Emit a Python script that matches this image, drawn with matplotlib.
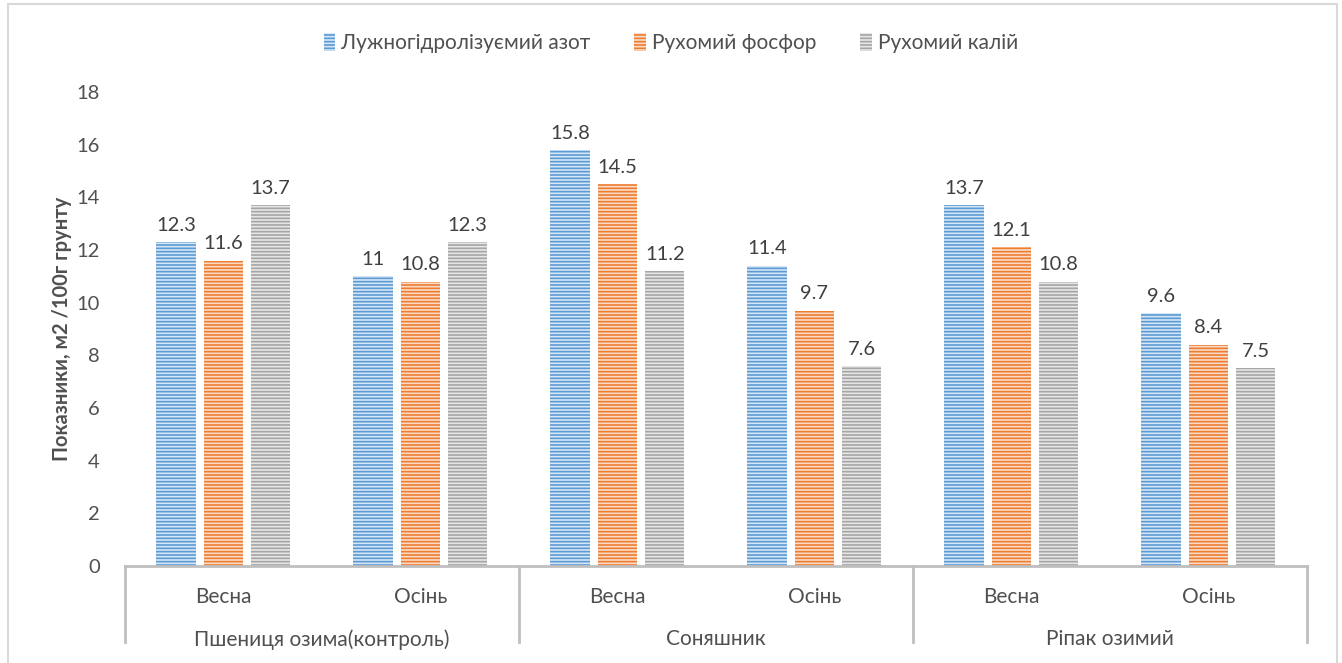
import numpy as np
import matplotlib.pyplot as plt
from matplotlib.patches import Rectangle
from matplotlib.lines import Line2D

plt.rcParams['font.family'] = ['Lato', 'DejaVu Sans']
plt.rcParams['hatch.linewidth'] = 1.2

seasons = ['Весна', 'Осінь', 'Весна', 'Осінь', 'Весна', 'Осінь']
crops = ['Пшениця озима(контроль)', 'Соняшник', 'Ріпак озимий']
series = ['Лужногідролізуємий азот', 'Рухомий фосфор', 'Рухомий калій']
nitrogen = [12.3, 11, 15.8, 11.4, 13.7, 9.6]
phosphorus = [11.6, 10.8, 14.5, 9.7, 12.1, 8.4]
potassium = [13.7, 12.3, 11.2, 7.6, 10.8, 7.5]

colors = ['#5B9BD5', '#ED7D31', '#A5A5A5']
light = ['#D6E6F5', '#FADBC8', '#E6E6E6']
txt = '#505050'

fig = plt.figure(figsize=(13.42, 6.63), dpi=100)
ax = fig.add_axes([0.0931, 0.1463, 0.8808, 0.715])

x = np.arange(len(seasons))
width = 0.2
offsets = [-0.24, 0, 0.24]
handles = []
for vals, off, c, lc, name in zip([nitrogen, phosphorus, potassium], offsets, colors, light, series):
    bars = ax.bar(x + off, vals, width, facecolor=lc, edgecolor=c, hatch='-----',
                  linewidth=0, label=name)
    handles.append(bars)
    for xi, v in zip(x + off, vals):
        ax.annotate(f'{v:g}', (xi, v), xytext=(0, 6), textcoords='offset points',
                    ha='center', va='bottom', fontsize=14.5, color='#404040')

ax.set_xlim(-0.5, 5.5)
ax.set_ylim(0, 18)
ax.set_yticks(range(0, 19, 2))
ax.tick_params(axis='y', length=0, labelsize=14.5, labelcolor=txt, pad=18)
ax.set_xticks([])
for s in ['top', 'right', 'left']:
    ax.spines[s].set_visible(False)
ax.spines['bottom'].set_color('#BFBFBF')
ax.spines['bottom'].set_linewidth(2)
ax.set_ylabel('Показники, м2 /100г грунту', fontsize=14.5, fontweight='bold',
              color=txt, labelpad=3)

# two-level category axis below the plot
trans = ax.get_xaxis_transform()
for xs in [-0.5, 1.5, 3.5, 5.5]:
    ax.add_line(Line2D([xs, xs], [0, -0.16], transform=trans, color='#BFBFBF',
                       linewidth=2, clip_on=False))
for xi, s in zip(x, seasons):
    ax.text(xi, -0.065, s, transform=trans, ha='center', va='center',
            fontsize=15, color=txt)
for i, c in enumerate(crops):
    ax.text(2 * i + 0.5, -0.155, c, transform=trans, ha='center', va='center',
            fontsize=15, color=txt)

fig.legend(handles=handles, labels=series, loc='center', bbox_to_anchor=(0.5, 0.935),
           ncol=3, frameon=False, fontsize=15, labelcolor=txt,
           handlelength=0.55, handleheight=0.9, handletextpad=0.3, columnspacing=2.1)

fig.patches.append(Rectangle((8 / 1342, -0.02), 1329 / 1342, 1.02 - 4 / 663,
                             transform=fig.transFigure, fill=False,
                             edgecolor='#D9D9D9', linewidth=1.5))

fig.savefig('out.png', dpi=100)
